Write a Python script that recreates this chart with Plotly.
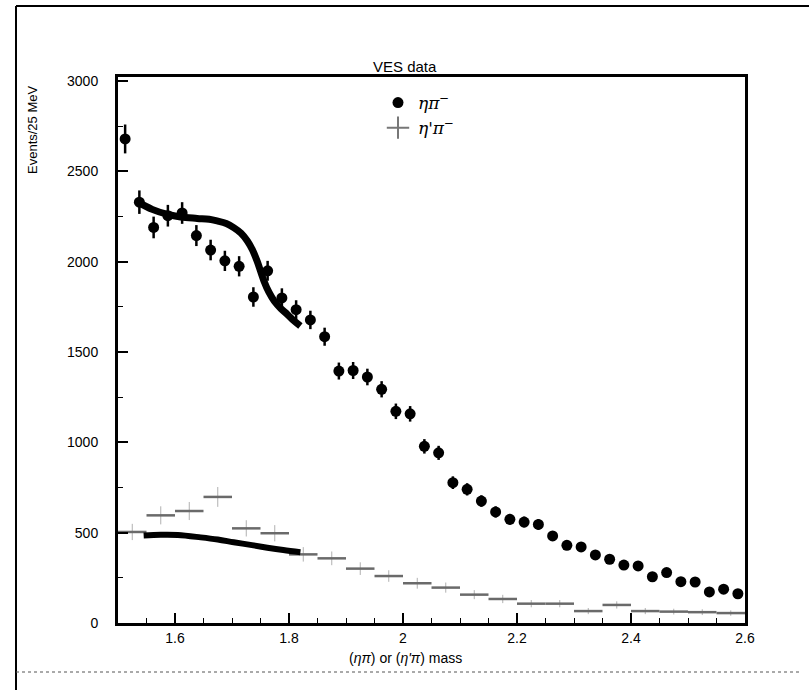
import plotly.graph_objects as go

# ---------------- data ----------------
etapi_mass = [1.5125 + 0.025 * k for k in range(44)]
etapi_counts = [2680, 2330, 2190, 2255, 2270, 2145, 2065, 2005, 1975, 1805,
                1950, 1800, 1735, 1678, 1585, 1395, 1398, 1362, 1294, 1172,
                1158, 978, 942, 777, 740, 675, 615, 574, 559, 546,
                482, 430, 421, 377, 353, 321, 316, 256, 279, 229,
                227, 172, 187, 162]
etapi_err = [80, 65, 60, 60, 60, 58, 57, 56, 56, 54,
             55, 53, 52, 51, 50, 47, 47, 46, 45, 43,
             43, 40, 39, 35, 34, 32, 31, 30, 30, 29,
             27, 26, 26, 24, 24, 23, 22, 20, 21, 19,
             19, 17, 17, 16]

etapip_mass = [1.525 + 0.05 * k for k in range(22)]
etapip_counts = [504, 596, 620, 698, 524, 497, 380, 358, 301, 260,
                 220, 196, 157, 133, 107, 107, 66, 100, 66, 63, 60, 55]
etapip_err = [45, 50, 50, 55, 45, 45, 40, 38, 35, 32,
              30, 28, 25, 23, 20, 20, 17, 20, 17, 16, 16, 15]
etapip_halfbin = [0.025] * 22

fit_etapi_x = [1.535, 1.56, 1.587, 1.61, 1.639, 1.66, 1.674, 1.69, 1.703, 1.716,
               1.727, 1.736, 1.744, 1.756, 1.765, 1.774, 1.786, 1.797, 1.808, 1.82]
fit_etapi_y = [2330, 2290, 2262, 2248, 2240, 2235, 2226, 2212, 2189, 2158,
               2115, 2065, 2004, 1894, 1830, 1783, 1740, 1709, 1675, 1644]

fit_etapip_x = [1.545, 1.575, 1.605, 1.645, 1.675, 1.703, 1.735, 1.762, 1.79, 1.82]
fit_etapip_y = [484, 488, 487, 474, 462, 447, 431, 417, 404, 392]

x_tickvals = [1.6, 1.8, 2.0, 2.2, 2.4, 2.6]
x_ticktext = ["1.6", "1.8", "2", "2.2", "2.4", "2.6"]
y_tickvals = [0, 500, 1000, 1500, 2000, 2500, 3000]
y_ticktext = ["0", "500", "1000", "1500", "2000", "2500", "3000"]

# ---------------- layout geometry (pixels) ----------------
W, H = 809, 690
L, R, T, B = 118, 745, 77, 623
pw, ph = R - L, B - T


def px(xp):
    return (xp - L) / pw


def py(yp):
    return (B - yp) / ph


fig = go.Figure()

# eta' pi histogram (grey crosses)
fig.add_trace(go.Scatter(
    x=etapip_mass, y=etapip_counts, mode="markers",
    name="<i>η'π<sup>−</sup></i>",
    marker=dict(symbol="line-ew", size=1, color="rgba(0,0,0,0)",
                line=dict(width=0, color="#777")),
    error_x=dict(type="data", array=etapip_halfbin, width=0, thickness=2.5, color="#6a6a6a"),
    error_y=dict(type="data", array=etapip_err, width=0, thickness=1, color="#b0b0b0"),
    showlegend=False,
))
# legend proxy for eta' pi (cross symbol)
fig.add_trace(go.Scatter(
    x=[None], y=[None], mode="markers",
    name="<i>η'π<sup>−</sup></i>",
    marker=dict(symbol="cross-thin-open", size=16, color="#777",
                line=dict(width=2, color="#777")),
))

# eta pi data points
fig.add_trace(go.Scatter(
    x=etapi_mass, y=etapi_counts, mode="markers",
    name="<i>ηπ<sup>−</sup></i>",
    marker=dict(symbol="circle", size=11, color="black"),
    error_y=dict(type="data", array=etapi_err, width=0, thickness=2.5, color="black"),
))

# fit curves
fig.add_trace(go.Scatter(
    x=fit_etapi_x, y=fit_etapi_y, mode="lines", line=dict(color="black", width=7, shape="spline"),
    showlegend=False, hoverinfo="skip",
))
fig.add_trace(go.Scatter(
    x=fit_etapip_x, y=fit_etapip_y, mode="lines", line=dict(color="black", width=6, shape="spline"),
    showlegend=False, hoverinfo="skip",
))

axis_font = dict(family="Liberation Sans, Arial, sans-serif", size=14, color="black")

fig.update_xaxes(
    range=[1.5, 2.6], tickvals=x_tickvals, ticktext=x_ticktext,
    showgrid=False, zeroline=False,
    showline=True, linecolor="black", linewidth=3, mirror=True,
    ticks="inside", ticklen=10, tickwidth=2, tickcolor="black",
    minor=dict(dtick=0.05, tick0=1.5, ticks="inside", ticklen=5, tickwidth=1, tickcolor="black"),
    tickfont=axis_font, ticklabelstandoff=0,
)
fig.update_yaxes(
    range=[0, 3023], tickvals=y_tickvals, ticktext=y_ticktext,
    showgrid=False, zeroline=False,
    showline=True, linecolor="black", linewidth=3, mirror=True,
    ticks="inside", ticklen=10, tickwidth=2, tickcolor="black",
    minor=dict(dtick=250, ticks="inside", ticklen=5, tickwidth=1, tickcolor="black"),
    tickfont=axis_font, ticklabelstandoff=14,
)

fig.update_layout(
    width=W, height=H,
    margin=dict(l=L, r=W - R, t=T, b=H - B, pad=0),
    paper_bgcolor="white", plot_bgcolor="white",
    showlegend=True,
    legend=dict(x=px(378), y=py(85), xanchor="left", yanchor="top",
                bgcolor="rgba(0,0,0,0)", borderwidth=0,
                font=dict(family="DejaVu Serif, Liberation Serif, serif", size=17, color="black"),
                traceorder="reversed", itemwidth=30, tracegroupgap=0),
    annotations=[
        dict(text="VES data", x=px(405), y=py(66), xref="paper", yref="paper",
             xanchor="center", yanchor="middle",
             showarrow=False, font=dict(family="Liberation Sans, Arial, sans-serif", size=15, color="black")),
        dict(text="(<i>ηπ</i>) or (<i>η'π</i>) mass", x=px(405), y=py(658), xref="paper", yref="paper",
             xanchor="center", yanchor="middle",
             showarrow=False, font=dict(family="Liberation Sans, Arial, sans-serif", size=14, color="black")),
        dict(text="Events/25 MeV", x=px(32), y=py(130), xref="paper", yref="paper",
             xanchor="center", yanchor="middle",
             showarrow=False, textangle=-90,
             font=dict(family="Liberation Sans, Arial, sans-serif", size=13, color="black")),
    ],
    shapes=[
        dict(type="line", xref="paper", yref="paper", x0=px(16), x1=px(809), y0=py(6), y1=py(6),
             line=dict(color="black", width=2)),
        dict(type="line", xref="paper", yref="paper", x0=px(16), x1=px(16), y0=py(6), y1=py(690),
             line=dict(color="black", width=2)),
        dict(type="line", xref="paper", yref="paper", x0=px(16), x1=px(800), y0=py(672), y1=py(672),
             line=dict(color="#555", width=1, dash="dot")),
    ],
)

fig.write_html("out.html")
